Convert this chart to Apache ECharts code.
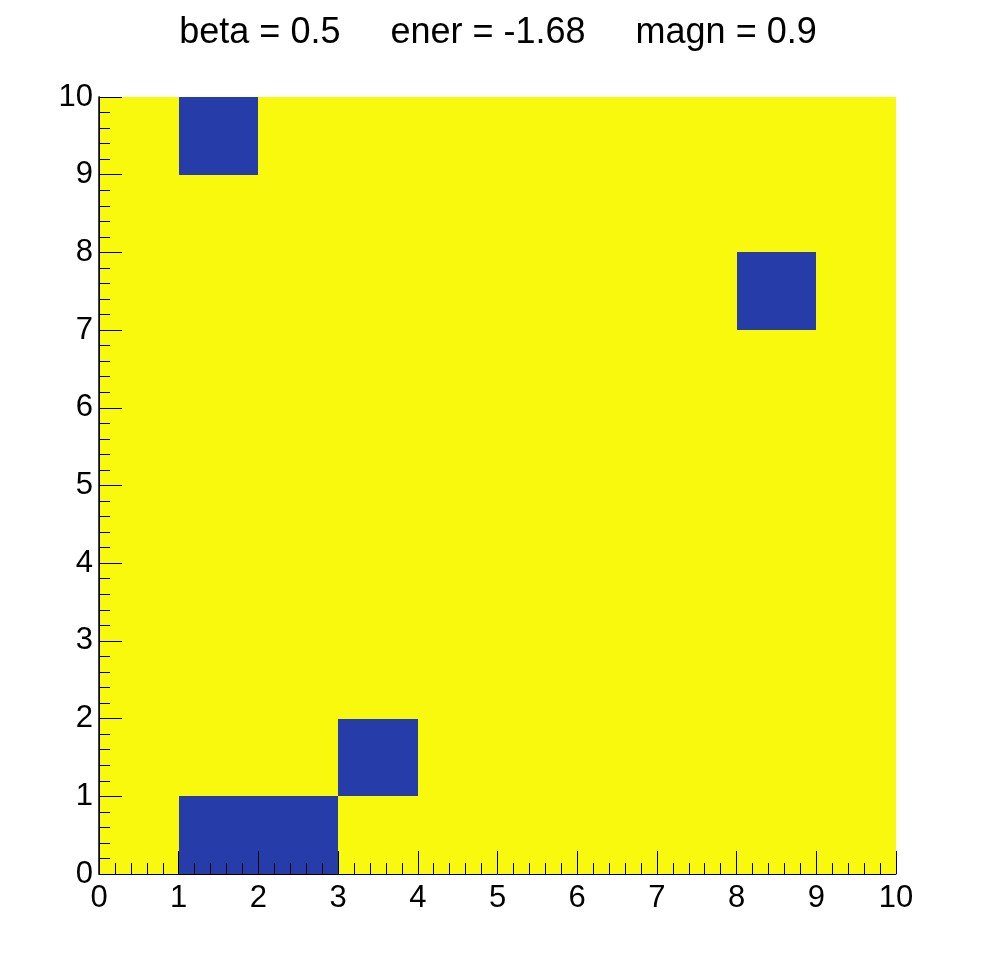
<!DOCTYPE html>
<html lang="en">
<head>
    <meta charset="UTF-8">
    <title>ising</title>
    <script src="https://cdn.jsdelivr.net/npm/echarts@6/dist/echarts.min.js"></script>
</head>
<body style="margin:0;background:#fff;">
<div id="main" style="width:996px;height:972px;"></div>
<script>
    // spin lattice, row 0 is the bottom row (y = 0..1)
    const spins = [
        [ 1,-1,-1, 1, 1, 1, 1, 1, 1, 1],
        [ 1, 1, 1,-1, 1, 1, 1, 1, 1, 1],
        [ 1, 1, 1, 1, 1, 1, 1, 1, 1, 1],
        [ 1, 1, 1, 1, 1, 1, 1, 1, 1, 1],
        [ 1, 1, 1, 1, 1, 1, 1, 1, 1, 1],
        [ 1, 1, 1, 1, 1, 1, 1, 1, 1, 1],
        [ 1, 1, 1, 1, 1, 1, 1, 1, 1, 1],
        [ 1, 1, 1, 1, 1, 1, 1, 1,-1, 1],
        [ 1, 1, 1, 1, 1, 1, 1, 1, 1, 1],
        [ 1,-1, 1, 1, 1, 1, 1, 1, 1, 1]
    ];
    const beta = 0.5;
    const ener = -1.68;
    const magn = 0.9;
    const axisMin = 0;
    const axisMax = 10;

    const upColor = '#f9f90e';
    const downColor = '#263ca9';
    const font = 'Liberation Sans';

    let cells = [];
    for (let j = 0; j < spins.length; j++) {
        for (let i = 0; i < spins[j].length; i++) {
            cells.push([i, j, spins[j][i]]);
        }
    }

    function makeAxis(pos, labelMargin) {
        return {
            type: 'value',
            position: pos,
            min: axisMin,
            max: axisMax,
            interval: 1,
            z: 10,
            axisLine: {show: true, onZero: false, lineStyle: {color: '#000', width: 1}},
            axisTick: {show: true, inside: true, length: 23, lineStyle: {color: '#000', width: 1}},
            minorTick: {show: true, splitNumber: 5, length: 11, lineStyle: {color: '#000', width: 1}},
            splitLine: {show: false},
            minorSplitLine: {show: false},
            axisLabel: {color: '#000', fontSize: 31, fontFamily: font, margin: labelMargin}
        };
    }

    var myChart = echarts.init(document.getElementById('main'));
    option = {
        animation: false,
        title: {
            text: 'beta = ' + beta + '     ener = ' + ener + '     magn = ' + magn,
            left: 'center',
            top: 10,
            textStyle: {color: '#000', fontSize: 36, fontWeight: 'normal', fontFamily: font}
        },
        grid: {
            left: 99, top: 97, right: 100, bottom: 98,
            show: true, backgroundColor: upColor, borderWidth: 0
        },
        xAxis: makeAxis('bottom', 9),
        yAxis: [
            makeAxis('left', 6),
            {
                type: 'value', min: axisMin, max: axisMax, position: 'right', z: 10,
                axisLine: {show: true, lineStyle: {color: '#000', width: 1.5}},
                axisTick: {show: false}, axisLabel: {show: false}, splitLine: {show: false}
            }
        ],
        series: [
            {
                type: 'custom',
                z: 2,
                data: cells,
                renderItem: function (params, api) {
                    let x = api.value(0), y = api.value(1);
                    let p0 = api.coord([x, y + 1]);
                    let p1 = api.coord([x + 1, y]);
                    let x0 = Math.round(p0[0]), y0 = Math.round(p0[1]);
                    let x1 = Math.round(p1[0]), y1 = Math.round(p1[1]);
                    let c = api.value(2) > 0 ? upColor : downColor;
                    return {
                        type: 'rect',
                        shape: {x: x0, y: y0, width: x1 - x0, height: y1 - y0},
                        style: {fill: c}
                    };
                }
            }
        ]
    };
    myChart.setOption(option);
</script>
</body>
</html>
